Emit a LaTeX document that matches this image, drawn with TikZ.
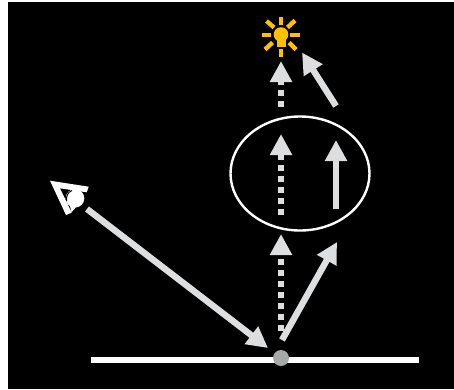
\documentclass[tikz,border=0pt]{standalone}
\usepackage{tikz}
\usetikzlibrary{arrows.meta,shapes.geometric}
\definecolor{cray}{HTML}{DDDEE0}
\definecolor{csun}{HTML}{FFC000}
\definecolor{cdot}{HTML}{A5A9A7}
\begin{document}
\begin{tikzpicture}[
    x=1pt, y=-1pt,
    >={Triangle[length=21pt, width=21pt]},
    ray/.style={->, line width=6.4pt, draw=cray},
    dotray/.style={ray, dash pattern=on 6pt off 5pt},
    sunray/.style={line width=4.4pt, draw=csun},
  ]
  \path[use as bounding box] (0,0) rectangle (454,389);
  \fill[white] (0,0) rectangle (454,389);
  \fill[black] (8,2) rectangle (454,389);
  % surface and the shading point
  \coordinate (gl) at (91,360);
  \coordinate (gr) at (419,360);
  \draw[line width=6.8pt, draw=white] (gl) -- (gr);
  \node[circle, fill=cdot, inner sep=0pt, minimum size=16pt] (hit) at (281,358) {};
  % the lobe
  \node[ellipse, draw=white, line width=2.4pt, inner sep=0pt,
        minimum width=139pt, minimum height=114pt] (lobe) at (300,173.5) {};
  % rays to the lobe
  \coordinate (a0) at (281,331);
  \coordinate (a1) at (281,234);
  \draw[dotray] (a0) -- (a1);
  \coordinate (b0) at (282,340);
  \coordinate (b1) at (337,242);
  \draw[ray] (b0) -- (b1);
  % rays inside the lobe
  \coordinate (c0) at (281,215);
  \coordinate (c1) at (281,134);
  \draw[dotray] (c0) -- (c1);
  \coordinate (d0) at (336,209);
  \coordinate (d1) at (336,140);
  \draw[ray] (d0) -- (d1);
  % rays to the light
  \coordinate (e0) at (281,106.5);
  \coordinate (e1) at (281,61);
  \draw[dotray] (e0) -- (e1);
  \coordinate (f0) at (336,106);
  \coordinate (f1) at (302,52.5);
  \draw[ray] (f0) -- (f1);
  % view ray
  \coordinate (v0) at (87,209);
  \coordinate (v1) at (268,348);
  \draw[ray] (v0) -- (v1);
  % the light bulb
  \foreach \xa/\ya/\xb/\yb in {281/16.7/281/25, 281/49/281/57, 262/34.7/271/34.7, 290/34.7/299.5/34.7,
      266.5/21/274/27.5, 295/20.5/287.5/27.5, 265/49.5/272.5/42.5, 296/49.5/289/42.5}
    \draw[sunray] (\xa,\ya) -- (\xb,\yb);
  \fill[csun] (281,34.5) circle[radius=7.3pt];
  \fill[csun] (276.5,46.7) -- (276.5,38) -- (285.5,38) -- (285.5,46.7) -- cycle;
  % the eye
  \fill[white] (50,180.7) -- (88.7,186.7) -- (86.7,192.3) -- (60,188.3) -- (71.7,212.7) -- (66,215) -- cycle;
  \fill[white] (75,198.3) circle[radius=9.3pt];
  \fill[white] (70,206) -- (76,206) -- (75,208.5) -- (71.5,212) -- cycle;
  \draw[black, line width=1pt] (66.5,201) .. controls (66,196) and (68,192) .. (72,190.5);
\end{tikzpicture}
\end{document}
